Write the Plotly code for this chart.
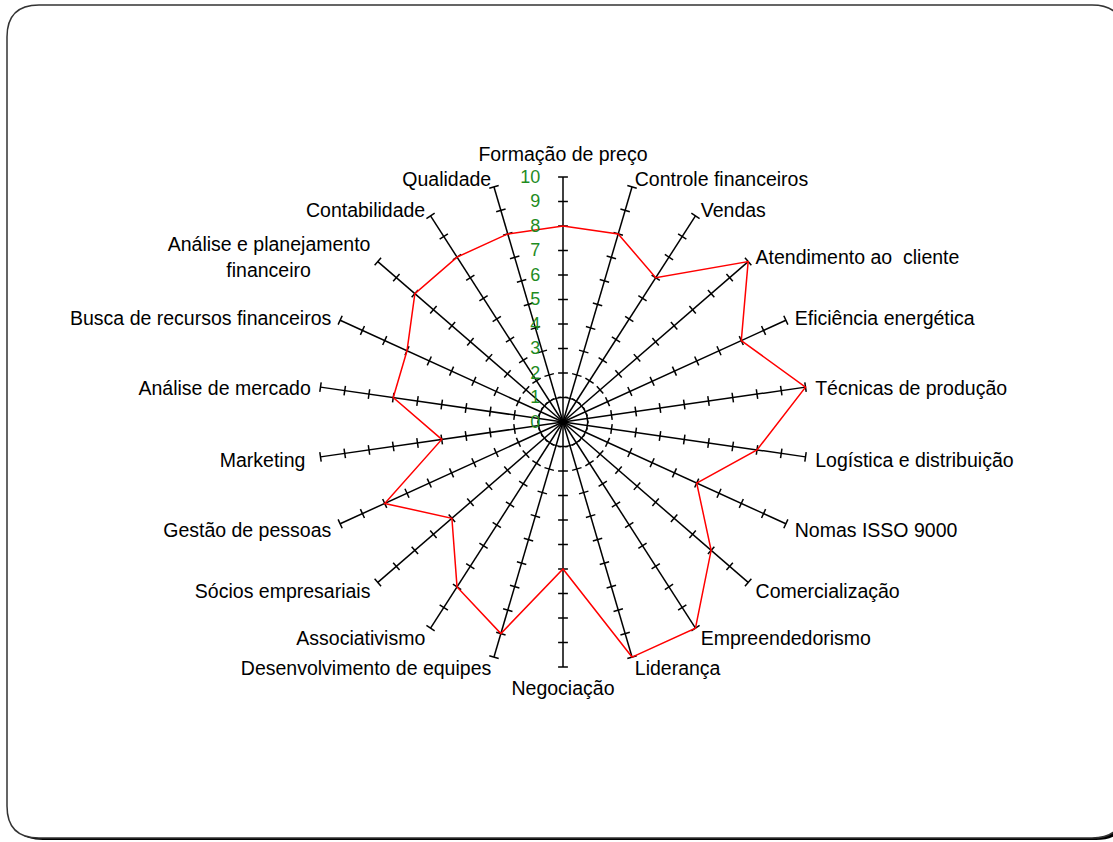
import math
import plotly.graph_objects as go

# Radar of competency scores (0-10) across 22 management areas
categories = [
    "Formação de preço",
    "Controle financeiros",
    "Vendas",
    "Atendimento ao  cliente",
    "Eficiência energética",
    "Técnicas de produção",
    "Logística e distribuição",
    "Nomas ISSO 9000",
    "Comercialização",
    "Empreendedorismo",
    "Liderança",
    "Negociação",
    "Desenvolvimento de equipes",
    "Associativismo",
    "Sócios empresariais",
    "Gestão de pessoas",
    "Marketing\u00a0",
    "Análise de mercado",
    "Busca de recursos financeiros",
    "Análise e planejamento<br>financeiro" + "\u00a0" * 11,
    "Contabilidade",
    "Qualidade",
]
scores = [8, 8, 7, 10, 8, 10, 8, 6, 8, 10, 10, 6, 9, 8, 6, 8, 5, 7, 7, 8, 8, 8]
radial_ticks = list(range(0, 11))

W, H = 1113, 842
n = len(categories)
angles = [360.0 * i / n for i in range(n)]
r_max = radial_ticks[-1]
r_outer = r_max + 0.7          # room for the category labels
px_per_unit = 24.5

# spokes, plus a small perpendicular tick on each spoke at every unit
half = 0.2
spoke_r, spoke_t = [], []
for a in angles:
    spoke_r += [0, r_max, None]
    spoke_t += [a, a, None]
    for k in radial_ticks[1:]:
        rr = math.hypot(k, half)
        d = math.degrees(math.atan2(half, k))
        spoke_r += [rr, rr, None]
        spoke_t += [a - d, a + d, None]


def label_anchor(a, gap, drop_px):
    # point `gap` units beyond the spoke end, lowered by `drop_px` pixels
    t = math.radians(a)
    x = (r_max + gap) * math.sin(t)
    y = (r_max + gap) * math.cos(t) - drop_px / px_per_unit
    return math.hypot(x, y), math.degrees(math.atan2(x, y)) % 360


label_r, label_t, label_pos = [], [], []
for a in angles:
    if abs(a) < 0.5:
        rr, tt = label_anchor(a, 0.45, 0)
        pos = "top center"
    elif abs(a - 180) < 0.5:
        rr, tt = label_anchor(a, 0.55, 0)
        pos = "bottom center"
    elif a < 180:
        rr, tt = label_anchor(a, 0.4, 4)
        pos = "middle right"
    else:
        rr, tt = label_anchor(a, 0.4, 4)
        pos = "middle left"
    label_r.append(rr)
    label_t.append(tt)
    label_pos.append(pos)

fig = go.Figure()
fig.add_trace(go.Scatterpolar(
    r=spoke_r, theta=spoke_t, mode="lines",
    line=dict(color="black", width=1.5),
    hoverinfo="skip", showlegend=False,
))
fig.add_trace(go.Scatterpolar(
    r=scores + scores[:1], theta=angles + angles[:1], mode="lines",
    line=dict(color="#ff0000", width=1.5),
    showlegend=False,
))
fig.add_trace(go.Scatterpolar(
    r=label_r, theta=label_t, mode="text",
    text=categories, textposition=label_pos,
    textfont=dict(size=19.5, color="black",
                  family="Liberation Sans, Arial, sans-serif"),
    cliponaxis=False, hoverinfo="skip", showlegend=False,
))


def px(x):
    return x / W


def py(y):
    return 1 - y / H


def rounded_rect(x0, y0, x1, y1, rad):
    return (
        f"M {px(x0 + rad)},{py(y0)} L {px(x1 - rad)},{py(y0)} "
        f"Q {px(x1)},{py(y0)} {px(x1)},{py(y0 + rad)} "
        f"L {px(x1)},{py(y1 - rad)} Q {px(x1)},{py(y1)} {px(x1 - rad)},{py(y1)} "
        f"L {px(x0 + rad)},{py(y1)} Q {px(x0)},{py(y1)} {px(x0)},{py(y1 - rad)} "
        f"L {px(x0)},{py(y0 + rad)} Q {px(x0)},{py(y0)} {px(x0 + rad)},{py(y0)} Z"
    )


def frame_outline(x0, y0, x1, y1, rad):
    # border without the right-hand side, which runs off the page
    return (
        f"M {px(x1)},{py(y0 + rad)} Q {px(x1)},{py(y0)} {px(x1 - rad)},{py(y0)} "
        f"L {px(x0 + rad)},{py(y0)} Q {px(x0)},{py(y0)} {px(x0)},{py(y0 + rad)} "
        f"L {px(x0)},{py(y1 - rad)} Q {px(x0)},{py(y1)} {px(x0 + rad)},{py(y1)} "
        f"L {px(x1 - rad)},{py(y1)} Q {px(x1)},{py(y1)} {px(x1)},{py(y1 - rad)}"
    )


fx0, fy0, fx1, fy1, frad = 7, 5, 1124, 838, 32
shapes = [
    dict(type="path", xref="paper", yref="paper", layer="below",
         path=rounded_rect(fx0 + 4, fy0 + 2, fx1 + 4, fy1 + 2, frad),
         fillcolor="black", line=dict(width=0)),
    dict(type="path", xref="paper", yref="paper", layer="below",
         path=rounded_rect(fx0, fy0, fx1, fy1, frad),
         fillcolor="white", line=dict(width=0)),
    dict(type="path", xref="paper", yref="paper", layer="below",
         path=frame_outline(fx0, fy0, fx1, fy1, frad),
         line=dict(color="#333333", width=1.5)),
]

cx, cy = 563, 422
R = px_per_unit * r_outer
fig.update_layout(
    width=W, height=H,
    margin=dict(l=0, r=0, t=0, b=0),
    paper_bgcolor="white",
    font=dict(family="Liberation Sans, Arial, sans-serif", color="black"),
    shapes=shapes,
    polar=dict(
        domain=dict(x=[(cx - R) / W, (cx + R) / W],
                    y=[1 - (cy + R) / H, 1 - (cy - R) / H]),
        bgcolor="rgba(0,0,0,0)",
        angularaxis=dict(
            type="linear", thetaunit="degrees",
            direction="clockwise", rotation=90,
            showticklabels=False, showgrid=False,
            showline=False, ticks="",
        ),
        radialaxis=dict(
            range=[0, r_outer], angle=90, side="counterclockwise",
            tickmode="array", tickvals=radial_ticks,
            ticks="outside", ticklen=16, tickcolor="rgba(0,0,0,0)",
            tickangle=90,
            tickfont=dict(size=18, color="#1f8c1f"),
            showgrid=False, showline=False,
        ),
    ),
)

fig.write_html("out.html")
